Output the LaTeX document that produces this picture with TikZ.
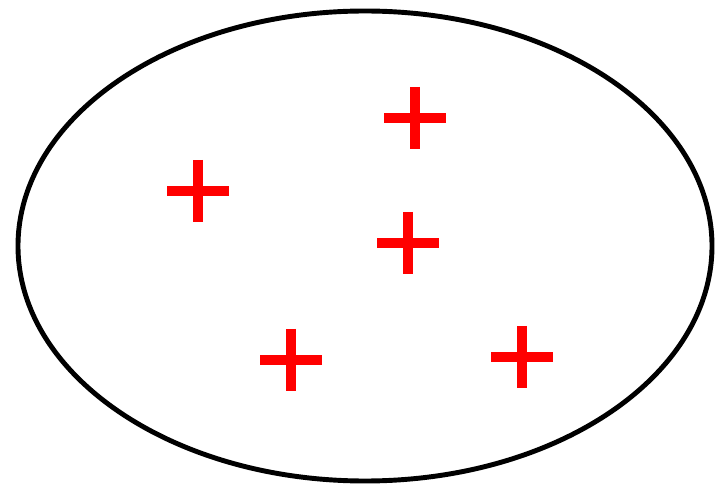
\documentclass[tikz,border=0pt]{standalone}
\usepackage{tikz}
\usepackage{xcolor}

\begin{document}
\begin{tikzpicture}[x=0.02cm, y=-0.02cm,
    outline/.style={draw=black, line width=2.8pt},
    plus/.style={draw=red, line width=5.6pt}]

    % Frame
    \useasboundingbox (0,0) rectangle (723,489);

    % Set
    \draw[outline] (365,246) ellipse [x radius=347, y radius=235];

    % Points
    \draw[plus] (415,118) +(-31,0) -- +(31,0) +(0,-31) -- +(0,31);
    \draw[plus] (198,191) +(-31,0) -- +(31,0) +(0,-31) -- +(0,31);
    \draw[plus] (408,243) +(-31,0) -- +(31,0) +(0,-31) -- +(0,31);
    \draw[plus] (291,360) +(-31,0) -- +(31,0) +(0,-31) -- +(0,31);
    \draw[plus] (522,357) +(-31,0) -- +(31,0) +(0,-31) -- +(0,31);
\end{tikzpicture}
\end{document}
